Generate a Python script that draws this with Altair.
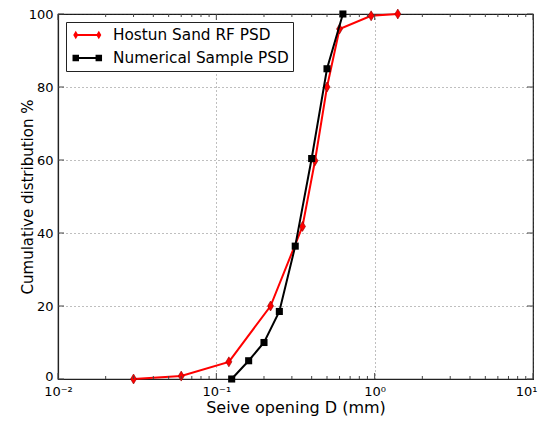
import altair as alt
import pandas as pd

# ---- data ----
hostun_d = [0.03, 0.06, 0.12, 0.22, 0.35, 0.42, 0.50, 0.60, 0.95, 1.40]
hostun_p = [0.0, 0.8, 4.7, 20.0, 41.8, 59.8, 80.0, 95.9, 99.5, 100.0]
numer_d = [0.125, 0.16, 0.20, 0.25, 0.315, 0.40, 0.50, 0.63]
numer_p = [0.0, 5.0, 10.0, 18.5, 36.4, 60.4, 85.0, 100.0]
series = ["Hostun Sand RF PSD", "Numerical Sample PSD"]
x_major = [0.01, 0.1, 1, 10]
x_minor = [k * 10.0 ** e for e in (-2, -1, 0) for k in range(2, 10)]
y_major = [0, 20, 40, 60, 80, 100]

W, H = 475, 365
PAD = {"left": 50, "top": 6, "right": 6, "bottom": 38}
FONT = "DejaVu Sans"

hostun = pd.DataFrame({"D": hostun_d, "P": hostun_p})
numer = pd.DataFrame({"D": numer_d, "P": numer_p})

xs = alt.Scale(type="log", domain=[0.01, 10], nice=False)
ys = alt.Scale(domain=[0, 100], nice=False)

x_axis = alt.Axis(
    values=x_major,
    labelExpr="datum.value < 0.05 ? '10⁻²' : datum.value < 0.5 ? '10⁻¹' : datum.value < 5 ? '10⁰' : '10¹'",
    labelOffset={"condition": {"test": "datum.value > 5", "value": -7}, "value": 0},
    title="Seive opening D (mm)", titleFontSize=16, titleBaseline="alphabetic", titleY=33,
    grid=True, ticks=False, labelPadding=6, labelFlush=False,
)
y_axis = alt.Axis(
    values=y_major, title="Cumulative distribution %", titleFontSize=15,
    titleBaseline="alphabetic", titleX=-26,
    labelOffset={"condition": {"test": "datum.value < 1", "value": -3}, "value": 0},
    grid=True, ticks=False, labelPadding=5, labelFlush=False,
)

red_line = alt.Chart(hostun).mark_line(color="#ff0000", strokeWidth=2).encode(
    x=alt.X("D:Q", scale=xs, axis=x_axis),
    y=alt.Y("P:Q", scale=ys, axis=y_axis),
)
diamond = "M0,-1L0.6,0L0,1L-0.6,0Z"
red_pts = alt.Chart(hostun).mark_point(
    shape=diamond, filled=True, color="#ff0000", size=100,
    stroke="#900000", strokeWidth=0.6, opacity=1,
).encode(x=alt.X("D:Q", scale=xs), y=alt.Y("P:Q", scale=ys))

blk_line = alt.Chart(numer).mark_line(color="#000000", strokeWidth=2).encode(
    x=alt.X("D:Q", scale=xs), y=alt.Y("P:Q", scale=ys)
)
blk_pts = alt.Chart(numer).mark_point(
    shape="square", filled=True, color="#000000", size=50, opacity=1,
).encode(x=alt.X("D:Q", scale=xs), y=alt.Y("P:Q", scale=ys))

# inward ticks
xmaj = pd.DataFrame({"D": x_major})
xmin = pd.DataFrame({"D": x_minor})
ymaj = pd.DataFrame({"P": y_major})
tick_col = "#444444"
ticks = [
    alt.Chart(xmaj).mark_rule(color=tick_col).encode(x=alt.X("D:Q", scale=xs), y=alt.value(H), y2=alt.value(H - 6)),
    alt.Chart(xmaj).mark_rule(color=tick_col).encode(x=alt.X("D:Q", scale=xs), y=alt.value(0), y2=alt.value(6)),
    alt.Chart(xmin).mark_rule(color=tick_col).encode(x=alt.X("D:Q", scale=xs), y=alt.value(H), y2=alt.value(H - 3)),
    alt.Chart(xmin).mark_rule(color=tick_col).encode(x=alt.X("D:Q", scale=xs), y=alt.value(0), y2=alt.value(3)),
    alt.Chart(ymaj).mark_rule(color=tick_col).encode(y=alt.Y("P:Q", scale=ys), x=alt.value(0), x2=alt.value(6)),
    alt.Chart(ymaj).mark_rule(color=tick_col).encode(y=alt.Y("P:Q", scale=ys), x=alt.value(W), x2=alt.value(W - 6)),
]

# legend carrier (no visible marks, legend from explicit domain)
red_sym = ("M-0.36,-0.11L2.2,-0.11L2.2,0.11L-0.36,0.11Z "
           "M-0.36,-0.46L-0.08,0L-0.36,0.46L-0.64,0Z "
           "M2.2,-0.46L2.48,0L2.2,0.46L1.92,0Z")
blk_sym = ("M-0.36,-0.11L2.2,-0.11L2.2,0.11L-0.36,0.11Z "
           "M-0.72,-0.36L0,-0.36L0,0.36L-0.72,0.36Z "
           "M1.84,-0.36L2.56,-0.36L2.56,0.36L1.84,0.36Z")
leg_df = pd.DataFrame({"s": series})
legend_layer = alt.Chart(leg_df).mark_point(filled=True, opacity=1).encode(
    color=alt.Color("s:N", scale=alt.Scale(domain=series, range=["#ff0000", "#000000"]),
                    legend=alt.Legend(title=None)),
    shape=alt.Shape("s:N", scale=alt.Scale(domain=series, range=[red_sym, blk_sym]),
                    legend=alt.Legend(title=None)),
).transform_filter("false")

chart = alt.layer(red_line, red_pts, blk_line, blk_pts, *ticks, legend_layer).properties(
    width=W, height=H, padding=PAD, autosize=alt.AutoSizeParams(type="none")
).configure(font=FONT).configure_view(
    stroke="#222222", strokeWidth=1.2
).configure_axis(
    labelFont=FONT, titleFont=FONT, labelFontSize=13,
    labelColor="#000", titleColor="#000", titleFontWeight="normal",
    domainColor="#222222", domainWidth=1.2,
    gridColor="#000000", gridOpacity=0.5, gridDash=[1, 3], gridWidth=1,
).configure_legend(
    orient="top-left", offset=8, padding=4, strokeColor="#222222", fillColor="#ffffff",
    labelFont=FONT, labelFontSize=15.3, labelColor="#000", labelLimit=0, symbolSize=324,
    symbolStrokeWidth=0, rowPadding=5, labelOffset=25, cornerRadius=0,
)

chart.save("out.html", embed_options={"renderer": "svg", "actions": False})
